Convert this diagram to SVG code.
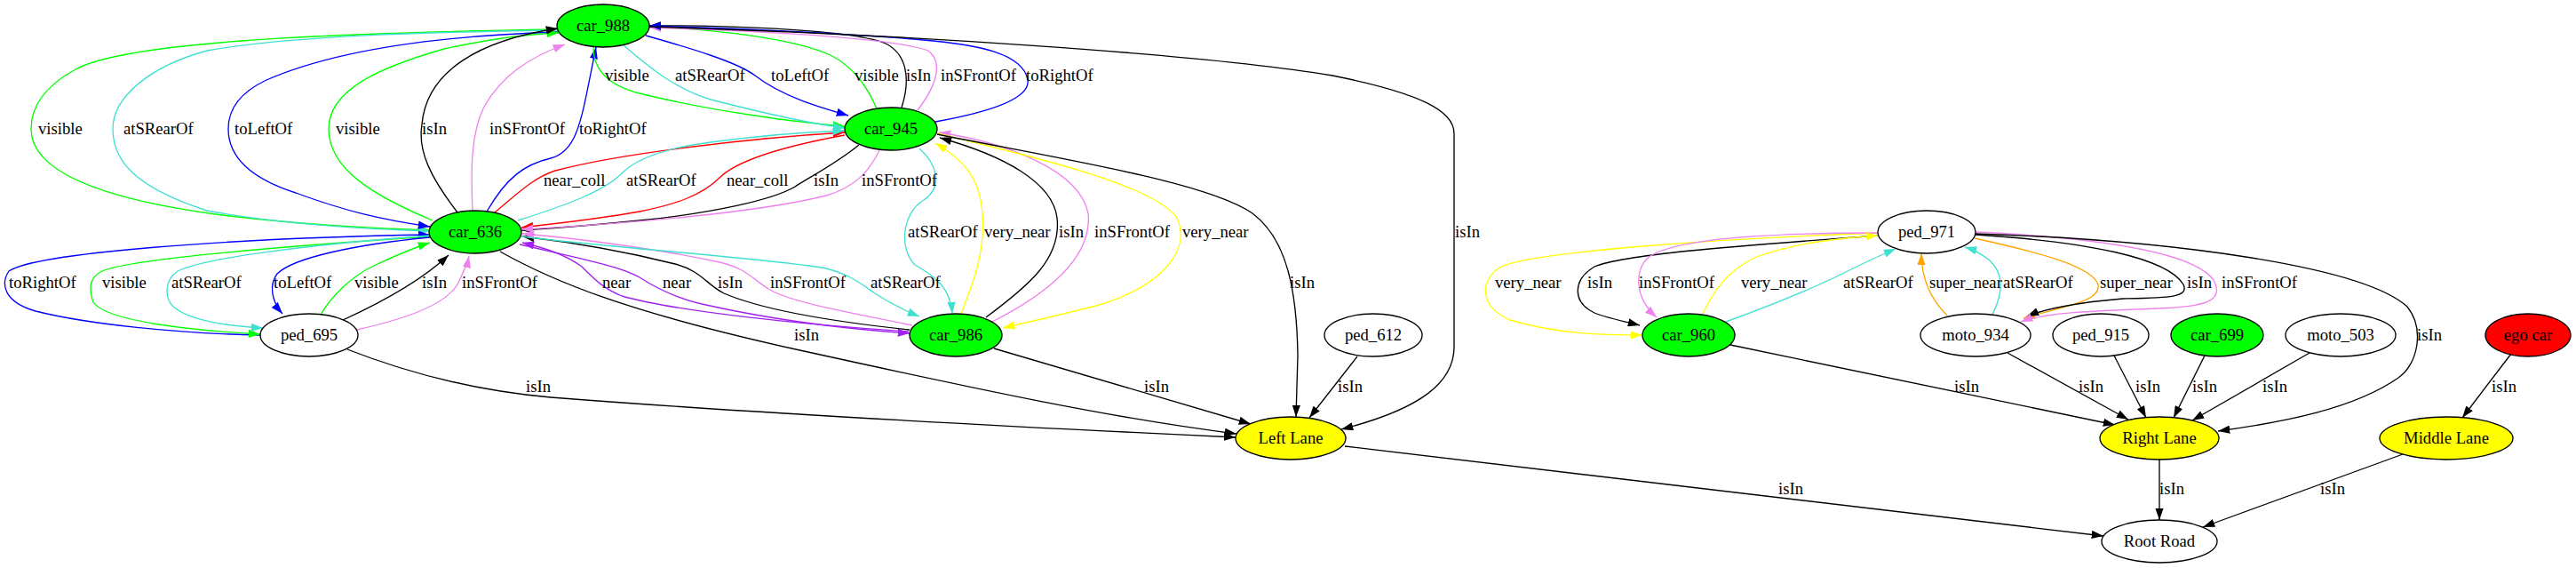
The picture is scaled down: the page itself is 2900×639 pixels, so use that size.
<svg xmlns="http://www.w3.org/2000/svg" width="2900" height="639" viewBox="0 0 2900 639">
<style>
.n{stroke:#000;stroke-width:1.33}
.w{fill:#fff}.gf{fill:#00ff00}.yf{fill:#ffff00}.rf{fill:#ff0000}
text{font-family:"Liberation Serif","Times New Roman",serif;font-size:18.67px;fill:#000}
.nt{text-anchor:middle}
#edges path{fill:none;stroke-width:1.33}
.k{stroke:#000;marker-end:url(#ak)}
.g{stroke:#00ff00;marker-end:url(#ag)}
.t{stroke:#40e0d0;marker-end:url(#at)}
.b{stroke:#0000ff;marker-end:url(#ab)}
.v{stroke:#ee82ee;marker-end:url(#av)}
.r{stroke:#ff0000;marker-end:url(#ar)}
.y{stroke:#ffff00;marker-end:url(#ay)}
.p{stroke:#a020f0;marker-end:url(#ap)}
.o{stroke:#ffa500;marker-end:url(#ao)}
</style>
<defs>
<marker id="ak" viewBox="0 0 10 7" refX="10" refY="3.5" markerWidth="13.3" markerHeight="9.3" markerUnits="userSpaceOnUse" orient="auto"><path d="M0,0L10,3.5L0,7z" fill="#000"/></marker>
<marker id="ag" viewBox="0 0 10 7" refX="10" refY="3.5" markerWidth="13.3" markerHeight="9.3" markerUnits="userSpaceOnUse" orient="auto"><path d="M0,0L10,3.5L0,7z" fill="#00ff00"/></marker>
<marker id="at" viewBox="0 0 10 7" refX="10" refY="3.5" markerWidth="13.3" markerHeight="9.3" markerUnits="userSpaceOnUse" orient="auto"><path d="M0,0L10,3.5L0,7z" fill="#40e0d0"/></marker>
<marker id="ab" viewBox="0 0 10 7" refX="10" refY="3.5" markerWidth="13.3" markerHeight="9.3" markerUnits="userSpaceOnUse" orient="auto"><path d="M0,0L10,3.5L0,7z" fill="#0000ff"/></marker>
<marker id="av" viewBox="0 0 10 7" refX="10" refY="3.5" markerWidth="13.3" markerHeight="9.3" markerUnits="userSpaceOnUse" orient="auto"><path d="M0,0L10,3.5L0,7z" fill="#ee82ee"/></marker>
<marker id="ar" viewBox="0 0 10 7" refX="10" refY="3.5" markerWidth="13.3" markerHeight="9.3" markerUnits="userSpaceOnUse" orient="auto"><path d="M0,0L10,3.5L0,7z" fill="#ff0000"/></marker>
<marker id="ay" viewBox="0 0 10 7" refX="10" refY="3.5" markerWidth="13.3" markerHeight="9.3" markerUnits="userSpaceOnUse" orient="auto"><path d="M0,0L10,3.5L0,7z" fill="#ffff00"/></marker>
<marker id="ap" viewBox="0 0 10 7" refX="10" refY="3.5" markerWidth="13.3" markerHeight="9.3" markerUnits="userSpaceOnUse" orient="auto"><path d="M0,0L10,3.5L0,7z" fill="#a020f0"/></marker>
<marker id="ao" viewBox="0 0 10 7" refX="10" refY="3.5" markerWidth="13.3" markerHeight="9.3" markerUnits="userSpaceOnUse" orient="auto"><path d="M0,0L10,3.5L0,7z" fill="#ffa500"/></marker>
</defs>
<rect x="0" y="0" width="2900" height="639" fill="#fff"/>
<g id="edges">
<path class="g" d="M628,33 C450,36 150,42 85,78 C45,100 35,125 35,145 C35,195 120,225 250,242 C340,253 420,257 484,259"/>
<path class="t" d="M628,34 C480,36 330,40 233,57 C167,75 127,110 127,145 C127,180 150,210 233,237 C320,253 420,258 484,260"/>
<path class="b" d="M628,36 C500,40 380,55 300,90 C268,105 257,125 257,145 C257,175 280,200 333,217 C390,238 430,247 484,255"/>
<path class="g" d="M487,248 C420,220 370,190 370,145 C370,100 430,75 500,55 C560,42 600,38 629,37"/>
<path class="k" d="M515,239 C485,200 470,170 475,140 C480,80 540,45 628,32"/>
<path class="v" d="M532,237 C530,190 530,150 545,120 C565,85 595,65 636,50"/>
<path class="b" d="M548,238 C570,200 590,185 620,178 C652,170 655,130 671,53"/>
<path class="g" d="M668,53 C668,75 680,95 720,105 C800,125 900,138 951,142"/>
<path class="t" d="M702,51 C730,75 760,100 800,112 C870,130 920,140 951,144"/>
<path class="b" d="M727,40 C780,55 830,70 850,85 C880,108 920,120 955,130"/>
<path class="g" d="M987,122 C975,95 960,75 935,62 C890,42 800,33 731,30"/>
<path class="k" d="M1015,121 C1025,90 1022,60 995,48 C950,32 800,28 731,29"/>
<path class="v" d="M1033,124 C1055,95 1062,70 1045,57 C1000,40 800,33 731,31"/>
<path class="b" d="M1053,137 C1120,125 1160,110 1157,90 C1152,60 1100,50 1040,45 C950,37 800,31 731,29"/>
<path class="r" d="M557,239 C580,220 600,200 625,192 C700,172 850,155 951,149"/>
<path class="t" d="M583,248 C640,230 680,215 700,195 C720,175 760,165 800,160 C860,152 920,148 951,147"/>
<path class="r" d="M951,152 C880,165 830,180 810,200 C790,220 760,230 720,238 C670,247 620,252 587,256"/>
<path class="k" d="M967,163 C940,185 910,200 895,210 C870,225 800,240 720,248 C670,253 620,257 587,259"/>
<path class="v" d="M990,169 C980,190 965,210 930,220 C850,240 700,252 587,258"/>
<path class="b" d="M293,377 C200,375 100,365 40,350 C5,340 0,320 10,305 C40,285 250,268 484,264"/>
<path class="g" d="M484,266 C350,275 150,290 115,305 C100,312 100,325 105,340 C120,362 220,372 293,376"/>
<path class="t" d="M484,265 C350,275 230,290 200,305 C185,315 185,335 195,345 C215,362 260,367 296,369"/>
<path class="b" d="M484,267 C400,275 330,290 312,308 C303,320 305,338 318,353"/>
<path class="g" d="M361,354 C372,335 395,310 425,297 C445,288 462,280 484,273"/>
<path class="k" d="M386,360 C430,340 475,315 505,287"/>
<path class="v" d="M402,371 C450,360 500,345 515,320 C522,305 526,298 528,288"/>
<path class="p" d="M1023,373 C900,365 760,350 700,333 C680,325 670,315 655,300 C635,285 610,278 588,273"/>
<path class="p" d="M585,275 C650,290 700,300 720,312 C740,325 760,335 790,342 C870,360 950,370 1024,375"/>
<path class="k" d="M1024,371 C920,360 850,345 815,330 C795,320 790,305 760,297 C700,282 640,272 588,266"/>
<path class="v" d="M1027,366 C950,350 890,340 865,325 C845,312 840,302 810,295 C740,280 650,268 588,263"/>
<path class="t" d="M587,266 C700,280 880,292 930,302 C960,310 970,320 985,330 C1000,340 1015,348 1035,356"/>
<path class="k" d="M563,283 C620,315 700,350 905,395 S1250,470 1392,488"/>
<path class="k" d="M391,393 C460,420 540,440 620,447 C850,465 1200,483 1391,492"/>
<path class="t" d="M1035,167 C1055,185 1062,210 1040,225 C1015,240 1012,280 1030,298 C1055,312 1070,325 1072,353"/>
<path class="y" d="M1082,353 C1090,330 1110,290 1106,240 C1103,200 1085,180 1053,161"/>
<path class="k" d="M1110,357 C1160,320 1195,290 1190,245 C1185,205 1130,175 1058,155"/>
<path class="v" d="M1117,362 C1180,330 1230,290 1225,240 C1215,190 1130,160 1057,149"/>
<path class="y" d="M1055,150 C1180,180 1300,210 1325,245 C1345,290 1290,330 1230,345 C1190,355 1160,362 1129,369"/>
<path class="k" d="M1055,151 C1200,180 1360,205 1410,240 C1450,270 1460,330 1461,400 L1459,469"/>
<path class="k" d="M731,30 C1000,38 1350,60 1500,85 C1600,105 1637,125 1637,150 L1637,390 C1637,430 1600,460 1510,483"/>
<path class="k" d="M1119,392 L1408,477"/>
<path class="k" d="M1528,401 L1474,470"/>
<path class="k" d="M1514,502 L2368,603"/>
<path class="y" d="M2114,262 C1950,268 1730,282 1690,300 C1665,315 1665,345 1700,360 C1750,375 1800,377 1849,377"/>
<path class="k" d="M2114,265 C1980,275 1830,285 1795,300 C1770,315 1770,340 1795,352 C1810,358 1830,362 1846,366"/>
<path class="v" d="M2114,262 C1980,262 1880,270 1855,290 C1840,305 1840,335 1865,357"/>
<path class="y" d="M1917,353 C1930,325 1945,305 1975,290 C2020,273 2070,268 2114,265"/>
<path class="t" d="M1943,362 C1990,345 2040,325 2080,305 C2100,295 2115,288 2134,280"/>
<path class="o" d="M2192,355 C2172,335 2163,310 2163,285"/>
<path class="t" d="M2243,354 C2255,330 2256,308 2240,293 C2230,285 2222,281 2212,278"/>
<path class="o" d="M2223,268 C2300,285 2355,300 2362,320 C2366,340 2320,345 2278,358"/>
<path class="k" d="M2224,264 C2350,272 2440,290 2458,320 C2465,335 2440,335 2390,336 C2340,340 2300,348 2282,356"/>
<path class="v" d="M2224,261 C2370,268 2470,285 2492,315 C2505,340 2480,345 2430,347 C2350,350 2300,352 2275,362"/>
<path class="k" d="M2224,263 C2450,270 2660,300 2710,345 C2730,370 2722,410 2700,425 C2650,460 2570,475 2497,485"/>
<path class="k" d="M1948,388 L2381,478"/>
<path class="k" d="M2260,397 L2396,472"/>
<path class="k" d="M2380,400 L2416,470"/>
<path class="k" d="M2482,400 L2447,470"/>
<path class="k" d="M2600,397 L2468,473"/>
<path class="k" d="M2827,398 L2772,470"/>
<path class="k" d="M2431,517 L2431,585"/>
<path class="k" d="M2705,511 L2480,593"/>
</g>
<g id="edge-labels">
<text x="681" y="91">visible</text><text x="760" y="91">atSRearOf</text><text x="868" y="91">toLeftOf</text><text x="962" y="91">visible</text><text x="1020" y="91">isIn</text><text x="1059" y="91">inSFrontOf</text><text x="1155" y="91">toRightOf</text>
<text x="43" y="151">visible</text><text x="139" y="151">atSRearOf</text><text x="264" y="151">toLeftOf</text><text x="378" y="151">visible</text><text x="475" y="151">isIn</text><text x="551" y="151">inSFrontOf</text><text x="652" y="151">toRightOf</text>
<text x="612" y="209">near_coll</text><text x="705" y="209">atSRearOf</text><text x="818" y="209">near_coll</text><text x="916" y="209">isIn</text><text x="970" y="209">inSFrontOf</text>
<text x="1022" y="267">atSRearOf</text><text x="1108" y="267">very_near</text><text x="1192" y="267">isIn</text><text x="1232" y="267">inSFrontOf</text><text x="1331" y="267">very_near</text><text x="1638" y="267">isIn</text>
<text x="10" y="324">toRightOf</text><text x="115" y="324">visible</text><text x="193" y="324">atSRearOf</text><text x="308" y="324">toLeftOf</text><text x="399" y="324">visible</text><text x="475" y="324">isIn</text><text x="520" y="324">inSFrontOf</text><text x="678" y="324">near</text><text x="746" y="324">near</text><text x="808" y="324">isIn</text><text x="867" y="324">inSFrontOf</text><text x="980" y="324">atSRearOf</text><text x="1452" y="324">isIn</text>
<text x="1683" y="324">very_near</text><text x="1787" y="324">isIn</text><text x="1845" y="324">inSFrontOf</text><text x="1960" y="324">very_near</text><text x="2075" y="324">atSRearOf</text><text x="2172" y="324">super_near</text><text x="2255" y="324">atSRearOf</text><text x="2364" y="324">super_near</text><text x="2462" y="324">isIn</text><text x="2501" y="324">inSFrontOf</text>
<text x="894" y="383">isIn</text><text x="2721" y="383">isIn</text>
<text x="592" y="441">isIn</text><text x="1288" y="441">isIn</text><text x="1506" y="441">isIn</text><text x="2200" y="441">isIn</text><text x="2340" y="441">isIn</text><text x="2404" y="441">isIn</text><text x="2468" y="441">isIn</text><text x="2547" y="441">isIn</text><text x="2805" y="441">isIn</text>
<text x="2002" y="556">isIn</text><text x="2431" y="556">isIn</text><text x="2612" y="556">isIn</text>
</g>
<g id="car_988"><ellipse class="n gf" cx="679" cy="29" rx="52" ry="24"/><text class="nt" x="679" y="35">car_988</text></g>
<g id="car_945"><ellipse class="n gf" cx="1003" cy="145" rx="52" ry="24"/><text class="nt" x="1003" y="151">car_945</text></g>
<g id="car_636"><ellipse class="n gf" cx="535" cy="261" rx="52" ry="24"/><text class="nt" x="535" y="267">car_636</text></g>
<g id="ped_695"><ellipse class="n w" cx="348" cy="377" rx="55" ry="24"/><text class="nt" x="348" y="383">ped_695</text></g>
<g id="car_986"><ellipse class="n gf" cx="1076" cy="377" rx="52" ry="24"/><text class="nt" x="1076" y="383">car_986</text></g>
<g id="ped_612"><ellipse class="n w" cx="1546" cy="377" rx="55" ry="24"/><text class="nt" x="1546" y="383">ped_612</text></g>
<g id="left_lane"><ellipse class="n yf" cx="1453" cy="493" rx="62" ry="24"/><text class="nt" x="1453" y="499">Left Lane</text></g>
<g id="ped_971"><ellipse class="n w" cx="2169" cy="261" rx="55" ry="24"/><text class="nt" x="2169" y="267">ped_971</text></g>
<g id="car_960"><ellipse class="n gf" cx="1901" cy="377" rx="52" ry="24"/><text class="nt" x="1901" y="383">car_960</text></g>
<g id="moto_934"><ellipse class="n w" cx="2224" cy="377" rx="62" ry="24"/><text class="nt" x="2224" y="383">moto_934</text></g>
<g id="ped_915"><ellipse class="n w" cx="2365" cy="377" rx="54" ry="24"/><text class="nt" x="2365" y="383">ped_915</text></g>
<g id="car_699"><ellipse class="n gf" cx="2496" cy="377" rx="52" ry="24"/><text class="nt" x="2496" y="383">car_699</text></g>
<g id="moto_503"><ellipse class="n w" cx="2635" cy="377" rx="62" ry="24"/><text class="nt" x="2635" y="383">moto_503</text></g>
<g id="ego_car"><ellipse class="n rf" cx="2846" cy="377" rx="48" ry="24"/><text class="nt" x="2846" y="383">ego car</text></g>
<g id="right_lane"><ellipse class="n yf" cx="2431" cy="493" rx="67" ry="24"/><text class="nt" x="2431" y="499">Right Lane</text></g>
<g id="middle_lane"><ellipse class="n yf" cx="2754" cy="493" rx="75" ry="24"/><text class="nt" x="2754" y="499">Middle Lane</text></g>
<g id="root_road"><ellipse class="n w" cx="2431" cy="609" rx="65" ry="24"/><text class="nt" x="2431" y="615">Root Road</text></g>
</svg>
